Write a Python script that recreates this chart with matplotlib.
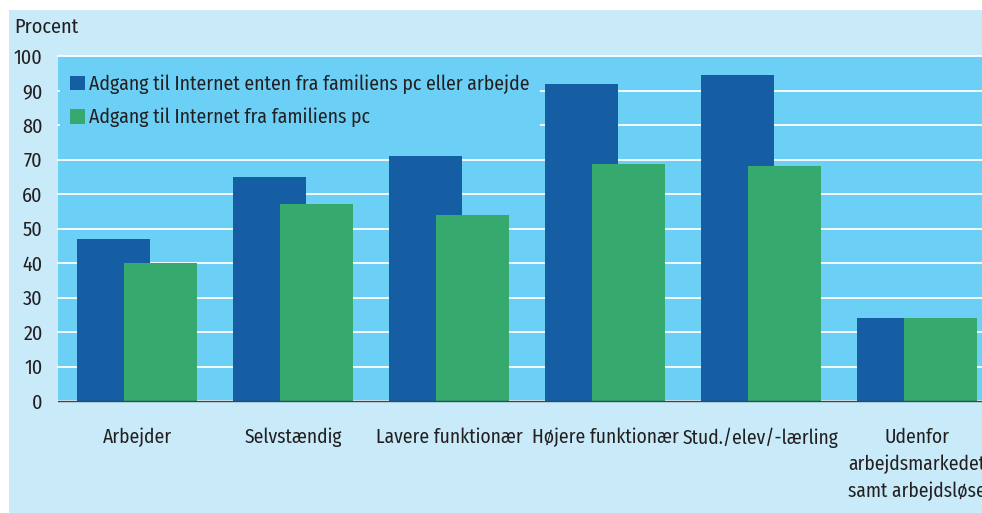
import matplotlib
matplotlib.use('Agg')
import matplotlib.pyplot as plt
from matplotlib.patches import Rectangle
import numpy as np

categories = ['Arbejder', 'Selvstændig', 'Lavere funktionær', 'Højere funktionær',
              'Stud./elev/-lærling', 'Udenfor\narbejdsmarkedet\nsamt arbejdsløse']
pc_or_work = [47, 65, 71, 92, 94.5, 24]
family_pc = [40, 57, 54, 68.6, 68, 24]
series_labels = ['Adgang til Internet enten fra familiens pc eller arbejde',
                 'Adgang til Internet fra familiens pc']
yticks = list(range(0, 101, 10))

BLUE = '#155ea3'
GREEN = '#36a96e'
PLOT_BG = '#6bcff6'
PANEL_BG = '#c8eaf9'
TEXT = '#231f20'
FS = 14.5

plt.rcParams['font.family'] = ['Fira Sans Condensed', 'DejaVu Sans']

W, H = 982, 513
fig = plt.figure(figsize=(W / 100, H / 100), dpi=100, facecolor='white')
fig.patches.append(Rectangle((9 / W, 0), 1, (H - 10) / H, transform=fig.transFigure,
                             facecolor=PANEL_BG, edgecolor='none', zorder=-5))

ax = fig.add_axes([58 / W, (H - 401) / H, (W - 58) / W, (401 - 56) / H])
ax.set_facecolor(PLOT_BG)

x = np.arange(len(categories))
width = 0.468
ax.bar(x - 0.15, pc_or_work, width, color=BLUE, label=series_labels[0], zorder=2)
ax.bar(x + 0.15, family_pc, width, color=GREEN, label=series_labels[1], zorder=3)

ax.set_xlim(-0.506, 5.417)
ax.set_ylim(0, 100)
ax.set_yticks(yticks)
ax.set_axisbelow(True)
ax.grid(axis='y', color='white', linewidth=1.3, clip_on=False)
ax.grid(axis='x', visible=False)

for s in ['top', 'right', 'left']:
    ax.spines[s].set_visible(False)
ax.spines['bottom'].set_color('#2b4c5c')
ax.spines['bottom'].set_linewidth(1.0)
ax.spines['bottom'].set_zorder(4)

ax.set_xticks(x)
ax.set_xticklabels(categories)
ax.tick_params(axis='y', length=0, pad=11, labelsize=FS, labelcolor=TEXT)
ax.tick_params(axis='x', length=0, pad=19, labelsize=14, labelcolor=TEXT)
plt.setp(ax.get_xticklabels(), linespacing=1.5, ha='center', va='top')

# legend box sits on the grid but under the bars
leg = ax.legend(loc='upper left', bbox_to_anchor=(0.002, 0.975), frameon=True,
                facecolor=PLOT_BG, edgecolor='none', framealpha=1, fancybox=False,
                fontsize=14.2, handlelength=0.75, handleheight=0.75, handletextpad=0.25,
                labelspacing=0.7, borderpad=0.5, borderaxespad=0)
for t in leg.get_texts():
    t.set_color(TEXT)
leg.set_zorder(1.5)

fig.text(14 / W, 1 - 27 / H, 'Procent', fontsize=FS, color=TEXT, va='center', ha='left')

fig.savefig('out.png', dpi=100, facecolor='white')
